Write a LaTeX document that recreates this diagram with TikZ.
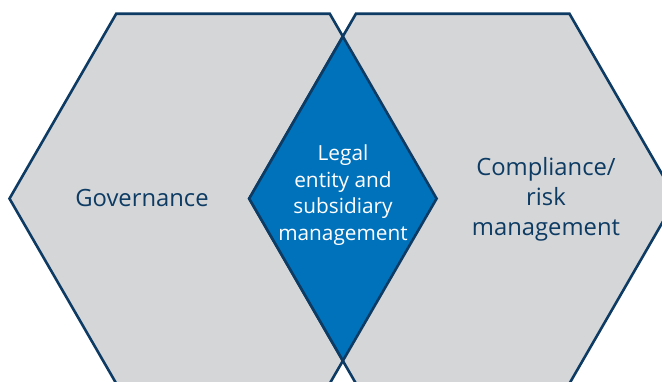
\documentclass[tikz,border=0pt]{standalone}
\usepackage{fontspec}
\setmainfont{Open Sans}
\usepackage{tikz}
\usetikzlibrary{shapes,positioning}
\definecolor{eynavy}{HTML}{0D3B63}
\definecolor{eygray}{HTML}{D5D6D8}
\definecolor{eyblue}{HTML}{0072BC}

\begin{document}
\begin{tikzpicture}[
    x=1pt, y=-1pt,
    every node/.style={inner sep=0pt, outer sep=0pt},
    hexcell/.style={regular polygon, regular polygon sides=6, minimum size=427pt,
      fill=eygray, draw=eynavy, line width=2.6pt},
    lensbox/.style={diamond, minimum width=187.4pt, minimum height=324.2pt,
      fill=eyblue, draw=eynavy, line width=2.6pt},
    bigtext/.style={text=eynavy, align=center, font=\fontsize{23.8}{30}\selectfont},
    smalltext/.style={text=white, align=center, font=\fontsize{20.8}{26.5}\selectfont}
  ]
  \useasboundingbox (0,0) rectangle (662,381);
  \clip (0,0) rectangle (662,381);

  % Hexagons
  \node[hexcell] (gov) at (223,198.6) {};
  \node[hexcell] (risk) at (462.7,198.6) {};

  % Overlap
  \node[lensbox] (legal) at (342.9,198.6) {};

  % Labels
  \node[bigtext] (govtext) at (142,198) {Governance};
  \node[smalltext] (legaltext) at (343,195) {Legal\\entity and\\subsidiary\\management};
  \node[bigtext] (risktext) at (546,199) {Compliance/\\risk\\management};

\end{tikzpicture}
\end{document}
